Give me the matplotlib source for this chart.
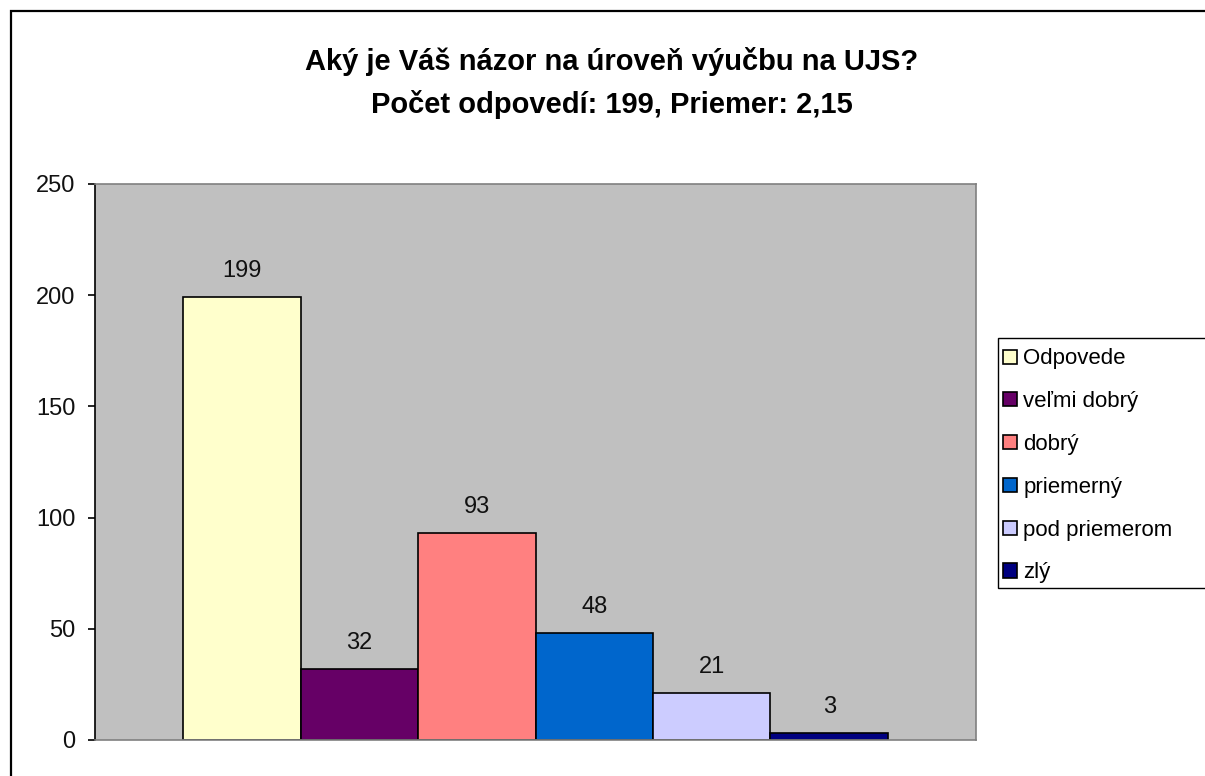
import matplotlib
matplotlib.use("Agg")
import matplotlib.pyplot as plt
from matplotlib.patches import Rectangle

plt.rcParams['font.family'] = ['Liberation Sans', 'DejaVu Sans']

series_names = ["Odpovede", "veľmi dobrý", "dobrý", "priemerný", "pod priemerom", "zlý"]
values = [199, 32, 93, 48, 21, 3]
colors = ["#FFFFCC", "#660066", "#FF8080", "#0066CC", "#CCCCFF", "#000080"]
yticks = [0, 50, 100, 150, 200, 250]
title = "Aký je Váš názor na úroveň výučbu na UJS?\nPočet odpovedí: 199, Priemer: 2,15"

W, H = 1205, 776
fig = plt.figure(figsize=(W / 100, H / 100), dpi=100)
fig.patch.set_facecolor("white")

# outer chart frame
fig.patches.append(Rectangle((11 / W, -0.05), 1.2, (776 - 11) / H + 0.05,
                             transform=fig.transFigure, fill=False,
                             edgecolor="#000000", linewidth=1.6))

ax = fig.add_axes([95 / W, (H - 740) / H, (976 - 95) / W, (740 - 184) / H])
ax.set_facecolor("#C0C0C0")

n = len(values)
w = 0.8 / n
xs = [-0.4 + w * (i + 0.5) for i in range(n)]
for x, v, c, name in zip(xs, values, colors, series_names):
    ax.bar(x, v, width=w, color=c, edgecolor="black", linewidth=1.2, label=name)
    ax.annotate(str(v), (x, v), xytext=(0, 11), textcoords="offset points",
                ha="center", va="bottom", fontsize=17, color="#111111")

ax.set_xlim(-0.5, 0.5)
ax.set_ylim(0, 250)
ax.set_yticks(yticks)
ax.set_yticklabels([str(t) for t in yticks], fontsize=17)
ax.set_xticks([])
for s in ["top", "right", "bottom"]:
    ax.spines[s].set_color("#808080")
    ax.spines[s].set_linewidth(1.2)
ax.spines["left"].set_color("black")
ax.spines["left"].set_linewidth(1.2)
ax.tick_params(axis="y", length=5, width=1.2, pad=9, colors="black")
for lbl in ax.get_yticklabels():
    lbl.set_color("#111111")

fig.text(612 / W, 1 - 83 / H, title, ha="center", va="center",
         fontsize=21, fontweight="bold", linespacing=1.6)

# legend frame (extends past the right edge as in the reference)
fig.patches.append(Rectangle((998 / W, 1 - 588 / H), 0.3, 250 / H,
                             transform=fig.transFigure, facecolor="white",
                             edgecolor="black", linewidth=1.0, zorder=1))
leg = fig.legend(loc="upper left", bbox_to_anchor=(999 / W, 1 - 344 / H),
                 fontsize=16, frameon=False, handlelength=0.6,
                 handleheight=0.6, handletextpad=0.3, labelspacing=0.98,
                 borderpad=0.2, borderaxespad=0)
leg.set_zorder(3)

fig.savefig("out.png", dpi=100)
